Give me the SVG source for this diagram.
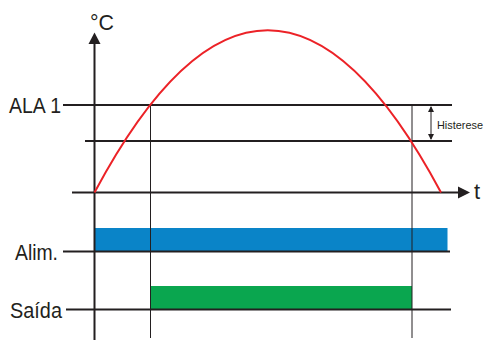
<svg xmlns="http://www.w3.org/2000/svg" width="484" height="340" viewBox="0 0 484 340">
<style>
.ax{stroke:#231f20;stroke-width:2;fill:none}
.thin{stroke:#231f20;stroke-width:1;fill:none}
.lbl{font-family:"Liberation Sans",Arial,sans-serif;font-size:22px;fill:#231f20}
.small{font-family:"Liberation Sans",Arial,sans-serif;font-size:11px;fill:#231f20}
</style>
<defs>
<marker id="ah" markerWidth="6" markerHeight="6" refX="5" refY="3" orient="auto-start-reverse" markerUnits="userSpaceOnUse">
<path d="M0,0 L6,3 L0,6 Z" fill="#231f20"/>
</marker>
</defs>
<rect width="484" height="340" fill="#ffffff"/>
<g id="bars">
<rect id="alim-bar" x="95" y="228" width="352.5" height="23.5" fill="#0a84c8"/>
<rect id="saida-bar" x="150.5" y="286" width="261.5" height="23.5" fill="#0aa64f"/>
</g>
<g id="connectors">
<line class="thin" x1="150.5" y1="105" x2="150.5" y2="338"/>
<line class="thin" x1="412" y1="105" x2="412" y2="338"/>
<line class="ax" x1="63" y1="105" x2="452" y2="105"/>
<line class="ax" x1="85" y1="141" x2="452" y2="141"/>
<line class="ax" x1="63" y1="251.5" x2="450" y2="251.5"/>
<line class="ax" x1="66" y1="309.5" x2="451" y2="309.5"/>
<line class="ax" x1="72" y1="192.5" x2="459" y2="192.5"/>
<path d="M458,186.5 L470,192.5 L458,198.5 Z" fill="#231f20"/>
<line class="ax" x1="94.5" y1="43" x2="94.5" y2="340"/>
<path d="M88.5,44 L94.5,32.5 L100.5,44 Z" fill="#231f20"/>
<line class="thin" x1="431" y1="107" x2="431" y2="139" marker-start="url(#ah)" marker-end="url(#ah)"/>
<path d="M94.5,192.5 Q267.75,-132 441,192.5" fill="none" stroke="#ec2227" stroke-width="2"/>
</g>
<g id="labels">
<text class="lbl" x="90" y="30" textLength="24" lengthAdjust="spacingAndGlyphs">°C</text>
<text class="lbl" x="9" y="113" textLength="52" lengthAdjust="spacingAndGlyphs">ALA 1</text>
<text class="lbl" x="15" y="259.5" textLength="43" lengthAdjust="spacingAndGlyphs">Alim.</text>
<text class="lbl" x="10" y="317.5" textLength="52" lengthAdjust="spacingAndGlyphs">Saída</text>
<text class="lbl" x="474" y="199">t</text>
<text class="small" x="437" y="129" textLength="46" lengthAdjust="spacingAndGlyphs">Histerese</text>
</g>
</svg>
